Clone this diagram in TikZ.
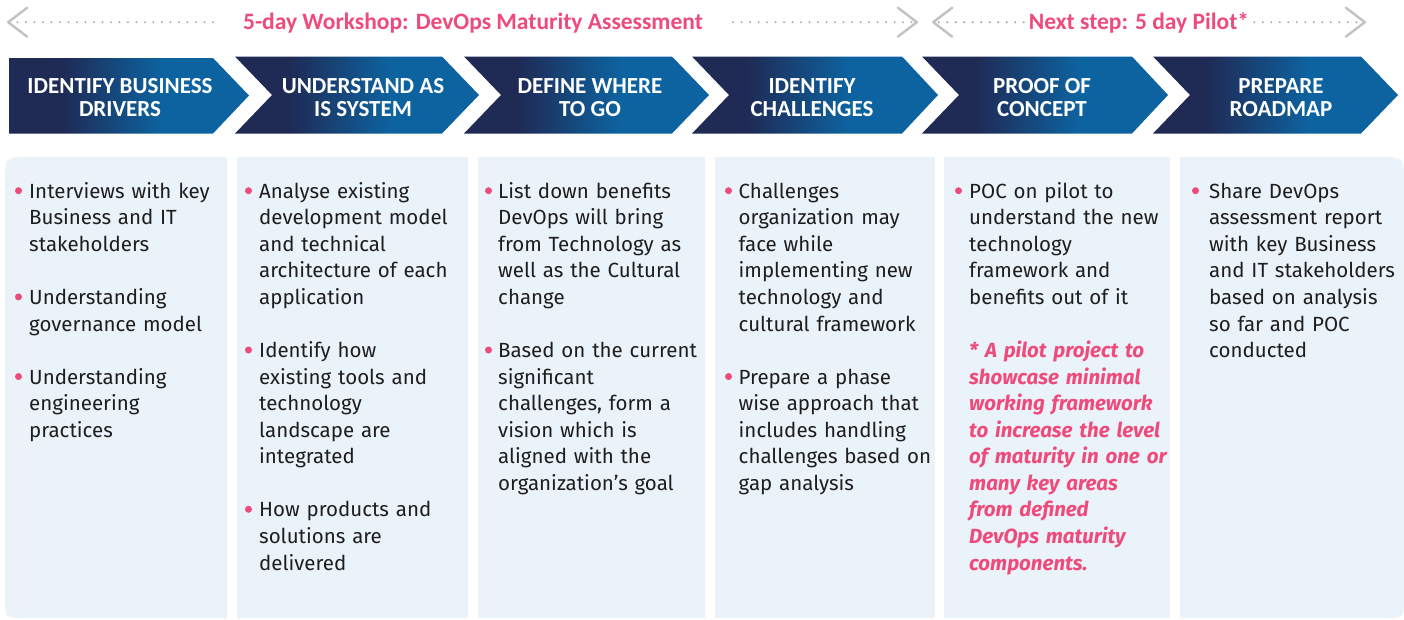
\documentclass[tikz,border=0pt]{standalone}
\usepackage{fontspec}
\setmainfont{Fira Sans}
\newfontfamily\calib{Carlito}
\usetikzlibrary{arrows.meta}
\definecolor{navy}{HTML}{1F2A55}
\definecolor{blueC}{HTML}{0D63A0}
\definecolor{panelC}{HTML}{EAF2FA}
\definecolor{pinkC}{HTML}{EE4B7B}
\definecolor{txtC}{HTML}{1E1E1E}
\definecolor{greyA}{HTML}{C2C2C2}
\definecolor{greyD}{HTML}{A6A6A6}
\pgfdeclarehorizontalshading{chev}{100bp}{color(0bp)=(navy); color(36bp)=(navy); color(57bp)=(blueC); color(100bp)=(blueC)}
\def\ly#1{198.3+26.55*#1}
\tikzset{
  panelbox/.style={fill=panelC, draw=none},
  chevtext/.style={font=\calib\bfseries\fontsize{23}{23.5}\selectfont, text=white, align=center, inner sep=0pt},
  titletext/.style={font=\calib\bfseries\fontsize{23.5}{25}\selectfont, text=pinkC, text height=15pt, text depth=0pt, inner ysep=0pt},
  dotsarrow/.style={draw=greyD, line width=2.2pt, line cap=round, dash pattern=on 0pt off 8.5pt,
     -{Straight Barb[length=19pt, width=29pt, line width=2.4pt, color=greyA, round]}},
  body/.style={anchor=base west, inner sep=0pt, text width=235pt, align=left,
     font=\fontsize{20.5}{26.55}\selectfont, text=txtC},
  pinkital/.style={body, font=\fontsize{20.5}{26.55}\selectfont\bfseries\itshape, text=pinkC},
  bul/.style={circle, fill=pinkC, inner sep=0pt, minimum size=7pt},
}
\begin{document}
\begin{tikzpicture}[x=1pt, y=-1pt]
\useasboundingbox (0,0) rectangle (1404,619);
\fill[white] (0,0) rectangle (1404,619);

% ---- top titles and dotted arrows
\node[titletext, inner xsep=30pt] (t1) at (473,22.2) {5-day Workshop: DevOps Maturity Assessment};
\node[titletext, inner xsep=5pt] (t2) at (1139,22.2) {Next step: 5 day Pilot*};
\coordinate (a1) at (7,22.2);
\coordinate (a2) at (918,22.2);
\coordinate (a3) at (932,22.2);
\coordinate (a4) at (1366,22.2);
\draw[dotsarrow] (t1.west) -- (a1);
\draw[dotsarrow] (t1.east) -- (a2);
\draw[dotsarrow] (t2.west) -- (a3);
\draw[dotsarrow] (t2.east) -- (a4);

% ---- chevrons
\shade[shading=chev] (9,58) -- (213,58) -- (249,95.5) -- (213,133.5) -- (9,133.5) -- cycle;
\foreach \a/\b/\c in {235/442/479, 464/672/709, 692/902/938, 922/1132/1168, 1153/1361/1398}
  \shade[shading=chev] (\a,56.5) -- (\b,56.5) -- (\c,95) -- (\b,133.5) -- (\a,133.5) -- ({\a+37},95) -- cycle;

\node[chevtext] (h1) at (120,97.5) {IDENTIFY BUSINESS\\DRIVERS};
\node[chevtext] (h2) at (363,97.5) {UNDERSTAND AS\\IS SYSTEM};
\node[chevtext] (h3) at (590,97.5) {DEFINE WHERE\\TO GO};
\node[chevtext] (h4) at (812,97.5) {IDENTIFY\\CHALLENGES};
\node[chevtext] (h5) at (1042,97.5) {PROOF OF\\CONCEPT};
\node[chevtext] (h6) at (1281,97.5) {PREPARE\\ROADMAP};

% ---- panels
\fill[panelbox] (227,157) -- (30,157) .. controls (5,157) .. (5,182) -- (5,598) .. controls (5,618) .. (25,618) -- (227,618) -- cycle;
\fill[panelbox] (237,157) rectangle (468,618);
\fill[panelbox] (478,157) rectangle (705,618);
\fill[panelbox] (715,157) rectangle (935,618);
\fill[panelbox] (944,157) rectangle (1170,618);
\fill[panelbox] (1180,157) -- (1379,157) .. controls (1404,157) .. (1404,182) -- (1404,598) .. controls (1404,618) .. (1384,618) -- (1180,618) -- cycle;

% ---- panel 1
\node[bul] (b11) at (18.5,{\ly{0}-7.6}) {};
\node[body] (p11) at (29,{\ly{0}}) {Interviews with key\\Business and IT\\stakeholders};
\node[bul] (b12) at (18.5,{\ly{4}-7.6}) {};
\node[body] (p12) at (29,{\ly{4}}) {Understanding\\governance model};
\node[bul] (b13) at (18.5,{\ly{7}-7.6}) {};
\node[body] (p13) at (29,{\ly{7}}) {Understanding\\engineering\\practices};

% ---- panel 2
\node[bul] (b21) at (248.5,{\ly{0}-7.6}) {};
\node[body] (p21) at (259,{\ly{0}}) {Analyse existing\\development model\\and technical\\architecture of each\\application};
\node[bul] (b22) at (248.5,{\ly{6}-7.6}) {};
\node[body] (p22) at (259,{\ly{6}}) {Identify how\\existing tools and\\technology\\landscape are\\integrated};
\node[bul] (b23) at (248.5,{\ly{12}-7.6}) {};
\node[body] (p23) at (259,{\ly{12}}) {How products and\\solutions are\\delivered};

% ---- panel 3
\node[bul] (b31) at (488.5,{\ly{0}-7.6}) {};
\node[body] (p31) at (498,{\ly{0}}) {List down benefits\\DevOps will bring\\from Technology as\\well as the Cultural\\change};
\node[bul] (b32) at (488.5,{\ly{6}-7.6}) {};
\node[body] (p32) at (498,{\ly{6}}) {Based on the current\\significant\\challenges, form a\\vision which is\\aligned with the\\organization’s goal};

% ---- panel 4
\node[bul] (b41) at (728.5,{\ly{0}-7.6}) {};
\node[body] (p41) at (738.5,{\ly{0}}) {Challenges\\organization may\\face while\\implementing new\\technology and\\cultural framework};
\node[bul] (b42) at (728.5,{\ly{7}-7.6}) {};
\node[body] (p42) at (738.5,{\ly{7}}) {Prepare a phase\\wise approach that\\includes handling\\challenges based on\\gap analysis};

% ---- panel 5
\node[bul] (b51) at (958.5,{\ly{0}-7.6}) {};
\node[body] (p51) at (969,{\ly{0}}) {POC on pilot to\\understand the new\\technology\\framework and\\benefits out of it};
\node[pinkital] (p52) at (969,{\ly{6}}) {* A pilot project to\\showcase minimal\\working framework\\to increase the level\\of maturity in one or\\many key areas\\from defined\\DevOps maturity\\components.};

% ---- panel 6
\node[bul] (b61) at (1195.5,{\ly{0}-7.6}) {};
\node[body] (p61) at (1209,{\ly{0}}) {Share DevOps\\assessment report\\with key Business\\and IT stakeholders\\based on analysis\\so far and POC\\conducted};
\end{tikzpicture}
\end{document}
